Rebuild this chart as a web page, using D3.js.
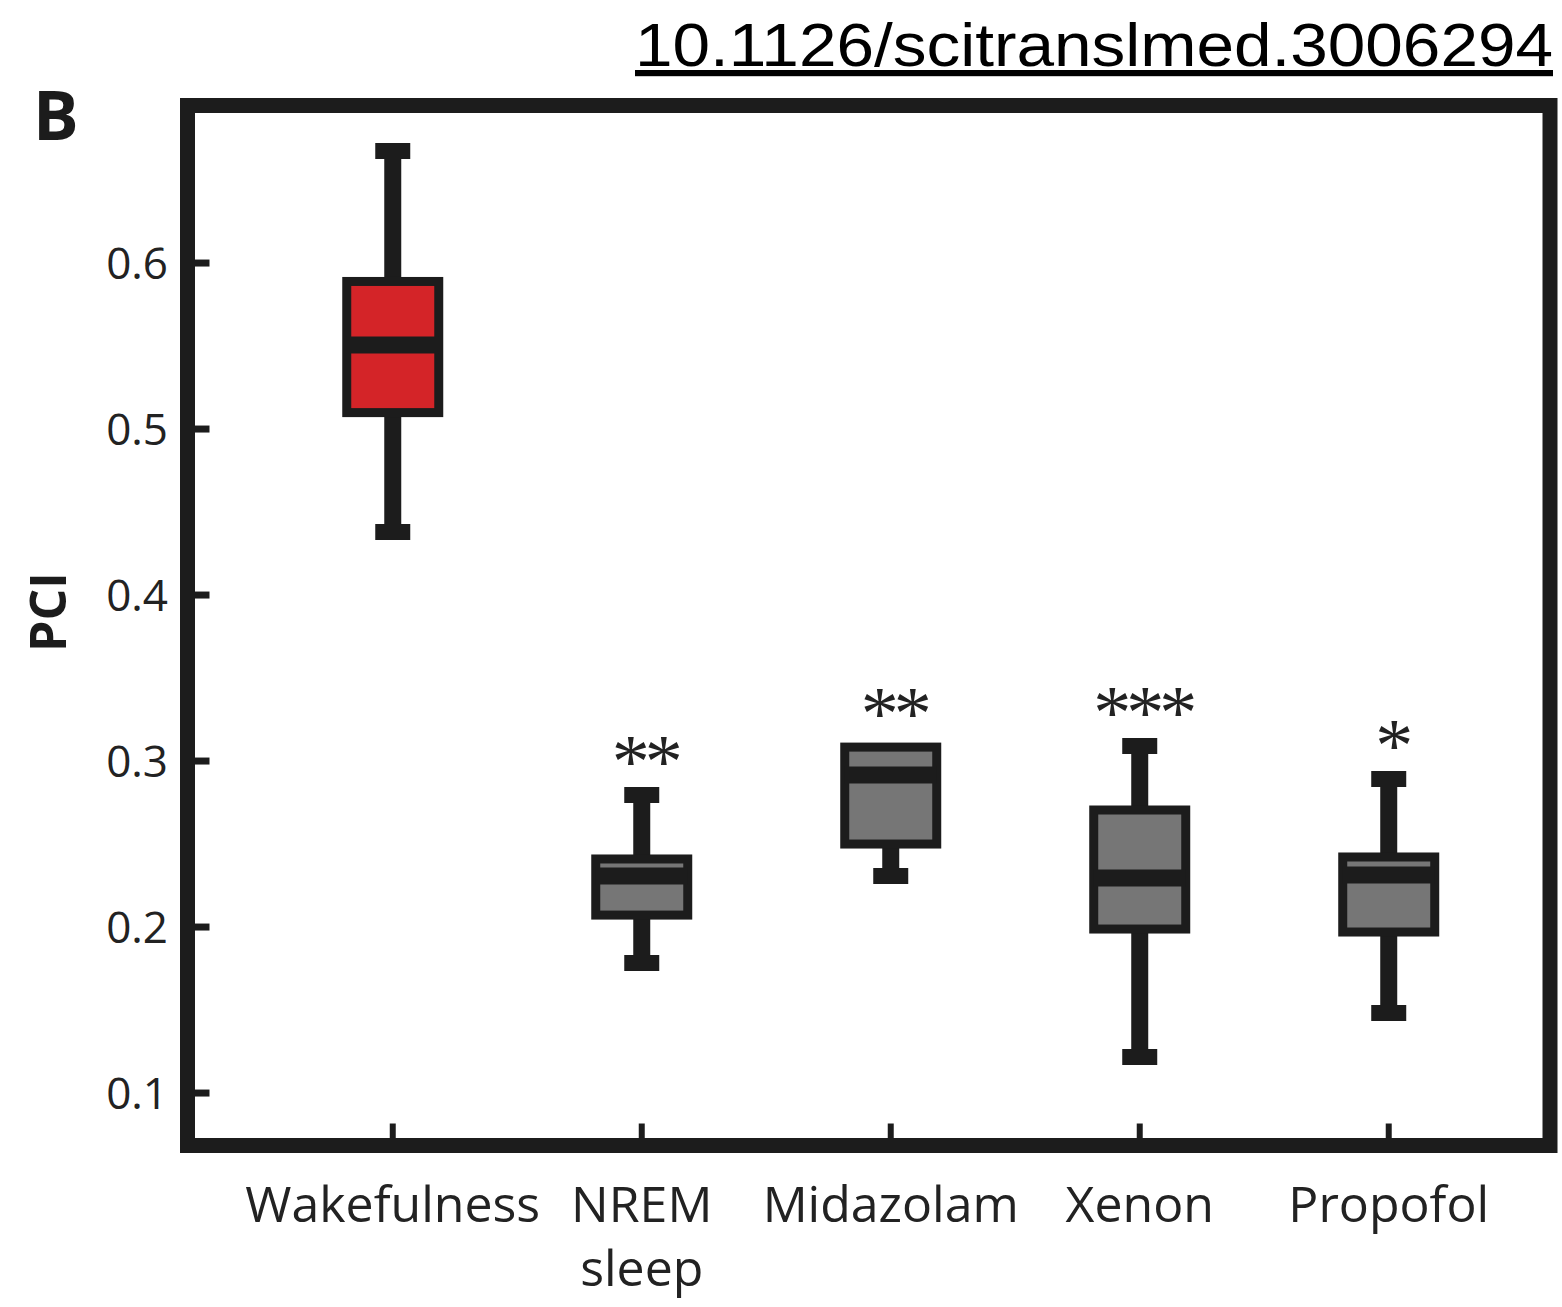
<!DOCTYPE html>
<html>
<head>
<meta charset="utf-8">
<script src="https://cdn.jsdelivr.net/npm/d3@7"></script>
<style>
  html, body { margin: 0; padding: 0; background: #fff; }
  svg { display: block; }
</style>
</head>
<body>
<script>
// PCI per condition
const categories = ["Wakefulness", "NREM sleep", "Midazolam", "Xenon", "Propofol"]
const whiskerHigh = [0.6675, 0.2795, 0.3084, 0.309, 0.2892]
const q3 = [0.5889, 0.241, 0.3084, 0.2705, 0.2422]
const median = [0.5506, 0.2307, 0.2916, 0.2295, 0.2313]
const q1 = [0.5099, 0.2072, 0.25, 0.1988, 0.197]
const whiskerLow = [0.438, 0.1783, 0.2307, 0.1217, 0.1482]
const stars = ["", "**", "**", "***", "*"]
const yTicks = [0.1, 0.2, 0.3, 0.4, 0.5, 0.6]

const width = 1562, height = 1307
const frame = { left: 187.5, right: 1550, top: 105.5, bottom: 1145.5 }
const ink = "#1c1c1c"

const svg = d3.select("body")
  .append("svg")
  .attr("width", width)
  .attr("height", height)

const y = d3.scaleLinear()
  .domain([0.0684, 0.6949])
  .range([frame.bottom, frame.top])

const x = d3.scalePoint()
  .domain(categories)
  .range([frame.left, frame.right])
  .padding(0.736)
  .align(0.56)

const boxes = categories.map((c, i) => ({
  name: c, hi: whiskerHigh[i], q3: q3[i], med: median[i], q1: q1[i], lo: whiskerLow[i],
  star: stars[i], fill: i === 0 ? "#d42428" : "#767676"
}))

// whiskers (drawn first so the box covers them)
const g = svg.append("g")
boxes.forEach(d => {
  const cx = x(d.name)
  if (d.hi > d.q3) {
    g.append("line").attr("x1", cx).attr("x2", cx)
      .attr("y1", y(d.hi)).attr("y2", y(d.q3))
      .attr("stroke", ink).attr("stroke-width", 17)
    g.append("line").attr("x1", cx - 17.5).attr("x2", cx + 17.5)
      .attr("y1", y(d.hi)).attr("y2", y(d.hi))
      .attr("stroke", ink).attr("stroke-width", 16)
  }
  if (d.lo < d.q1) {
    g.append("line").attr("x1", cx).attr("x2", cx)
      .attr("y1", y(d.q1)).attr("y2", y(d.lo))
      .attr("stroke", ink).attr("stroke-width", 17)
    g.append("line").attr("x1", cx - 17.5).attr("x2", cx + 17.5)
      .attr("y1", y(d.lo)).attr("y2", y(d.lo))
      .attr("stroke", ink).attr("stroke-width", 16)
  }
})

// boxes
g.selectAll("rect.box")
  .data(boxes)
  .enter()
  .append("rect")
  .attr("class", "box")
  .attr("x", d => x(d.name) - 46)
  .attr("width", 92)
  .attr("y", d => y(d.q3))
  .attr("height", d => y(d.q1) - y(d.q3))
  .attr("fill", d => d.fill)
  .attr("stroke", ink)
  .attr("stroke-width", 9)

// medians
g.selectAll("line.median")
  .data(boxes)
  .enter()
  .append("line")
  .attr("class", "median")
  .attr("x1", d => x(d.name) - 46)
  .attr("x2", d => x(d.name) + 46)
  .attr("y1", d => y(d.med))
  .attr("y2", d => y(d.med))
  .attr("stroke", ink)
  .attr("stroke-width", 17)

// significance stars
g.selectAll("text.star")
  .data(boxes.filter(d => d.star))
  .enter()
  .append("text")
  .attr("class", "star")
  .attr("x", d => x(d.name) + 3)
  .attr("y", d => y(d.hi) - 8)
  .attr("text-anchor", "middle")
  .style("font-family", "'Liberation Serif', serif")
  .style("font-size", "76px")
  .style("letter-spacing", "-5px")
  .attr("fill", "#222")
  .text(d => d.star)

// y ticks, pointing inward
svg.selectAll("line.ytick")
  .data(yTicks)
  .enter()
  .append("line")
  .attr("x1", frame.left)
  .attr("x2", frame.left + 22)
  .attr("y1", d => y(d))
  .attr("y2", d => y(d))
  .attr("stroke", ink)
  .attr("stroke-width", 7)

svg.selectAll("text.ylab")
  .data(yTicks)
  .enter()
  .append("text")
  .attr("x", 168)
  .attr("y", d => y(d) + 16)
  .attr("text-anchor", "end")
  .style("font-family", "'Open Sans', sans-serif")
  .style("font-size", "44px")
  .style("font-weight", 500)
  .attr("fill", "#222")
  .text(d => d3.format(".1f")(d))

// x ticks, pointing up from the bottom border
svg.selectAll("line.xtick")
  .data(categories)
  .enter()
  .append("line")
  .attr("x1", d => x(d))
  .attr("x2", d => x(d))
  .attr("y1", frame.bottom)
  .attr("y2", frame.bottom - 22)
  .attr("stroke", ink)
  .attr("stroke-width", 6)

const xlab = svg.selectAll("text.xlab")
  .data(categories)
  .enter()
  .append("text")
  .attr("text-anchor", "middle")
  .style("font-family", "'Open Sans', sans-serif")
  .style("font-size", "50px")
  .style("font-weight", 500)
  .attr("fill", "#222")

xlab.selectAll("tspan")
  .data(d => d.split(" ").map(t => ({ t, cx: x(d) })))
  .enter()
  .append("tspan")
  .attr("x", d => d.cx)
  .attr("y", (d, i) => 1222 + i * 64)
  .text(d => d.t)

// frame
svg.append("rect")
  .attr("x", frame.left)
  .attr("y", frame.top)
  .attr("width", frame.right - frame.left)
  .attr("height", frame.bottom - frame.top)
  .attr("fill", "none")
  .attr("stroke", ink)
  .attr("stroke-width", 15)

// axis title
svg.append("text")
  .attr("transform", "translate(66,612) rotate(-90)")
  .attr("text-anchor", "middle")
  .style("font-family", "'Open Sans', sans-serif")
  .style("font-weight", "bold")
  .style("font-size", "50px")
  .attr("fill", ink)
  .text("PCI")

// panel letter
svg.append("text")
  .attr("x", 33)
  .attr("y", 140)
  .style("font-family", "'Open Sans', sans-serif")
  .style("font-weight", "bold")
  .style("font-size", "68px")
  .attr("fill", ink)
  .text("B")

// doi
svg.append("text")
  .attr("x", 1553)
  .attr("y", 66)
  .attr("text-anchor", "end")
  .attr("textLength", 918)
  .attr("lengthAdjust", "spacingAndGlyphs")
  .style("font-family", "'Liberation Sans', Arial, sans-serif")
  .style("font-size", "62px")
  .style("text-decoration", "underline")
  .attr("fill", "#000")
  .text("10.1126/scitranslmed.3006294")
</script>
</body>
</html>
